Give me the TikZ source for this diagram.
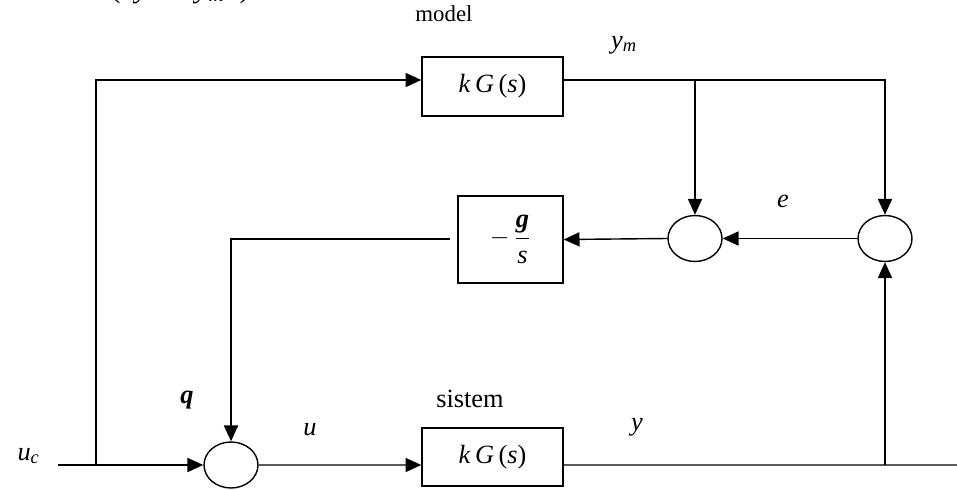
\documentclass[tikz,border=0pt]{standalone}
\usepackage{fontspec}
\setmainfont{Liberation Serif}
\usetikzlibrary{shapes,arrows.meta}

\begin{document}
\begin{tikzpicture}[x=0.02cm,y=-0.02cm,line width=0.8pt,
  every node/.style={font=\fontsize{13}{15}\selectfont},
  big/.style={font=\fontsize{15}{17}\selectfont},
  blok/.style={shape=rectangle,draw=black,line width=0.8pt,big},
  sum/.style={shape=ellipse,draw=black,line width=0.8pt,minimum width=1.08cm,minimum height=0.92cm,inner sep=0pt},
  arr/.style={-{Triangle[length=9pt,width=8pt]}}]
\clip (0,0) rectangle (957,490);

\node[blok,minimum width=2.82cm,minimum height=1.18cm] (mdl) at (492.5,86.5) {\textit{k}\,\textit{G}\,(\textit{s})\hspace{0.5cm}};
\node[blok,minimum width=2.82cm,minimum height=1.16cm] (sys) at (492.5,457) {\textit{k}\,\textit{G}\,(\textit{s})\hspace{0.5cm}};
\node[blok,minimum width=2.1cm,minimum height=1.74cm] (gain) at (510.5,239.5) {$-\,\displaystyle\frac{\textbf{\textit{g}}\rule[-3pt]{0pt}{8pt}}{\rule{0pt}{13pt}\textit{s}}$\hspace{0.25cm}};
\node[sum] (sumb) at (231,465) {};
\node[sum] (summ) at (695,238.5) {};
\node[sum] (sumr) at (885,238.5) {};

\coordinate (uin) at (58,465);
\coordinate (sp1) at (96,465);
\coordinate (sp2) at (885,465);
\coordinate (yout) at (957,465);
\coordinate (br) at (695,80);
\coordinate (gl) at (450,239);

\draw[arr] (uin) -- (sumb.west);
\draw[arr] (sp1) |- ([yshift=0.13cm]mdl.west);
\draw[arr] (sumb.east) -- ([yshift=-0.16cm]sys.west);
\draw ([yshift=-0.16cm]sys.east) -- (yout);
\draw[arr] (sp2) -- (sumr.south);
\draw[arr] ([yshift=0.13cm]mdl.east) -| (sumr.north);
\draw[arr] (br) -- (summ.north);
\draw[arr] (sumr.west) -- (summ.east);
\draw[arr] (summ.west) -- (gain.east);
\draw[arr] (gl) -| (sumb.north);

\node (lmodel) at (444,14) {model};
\node[big] (lsistem) at (470,399) {sistem};
\node[big] (lym) at (624,45) {\textit{y}\textsubscript{\textit{m}}};
\node[big] (le) at (783,201) {\textit{e}};
\node[big] (ly) at (637,427) {\textit{y}};
\node[big] (lu) at (310,430) {\textit{u}};
\node[big] (lq) at (187,400) {\textbf{\textit{q}}};
\node[big,anchor=base west] (luc) at (11,460) {\textit{u}\textsubscript{\textit{c}}};
\node[anchor=base,font=\fontsize{17}{19}\selectfont] (lerr) at (180,-3) {(\enspace\textit{y}\enspace−\enspace\textit{y}\textsubscript{\textit{m}}\enspace)};
\end{tikzpicture}
\end{document}
